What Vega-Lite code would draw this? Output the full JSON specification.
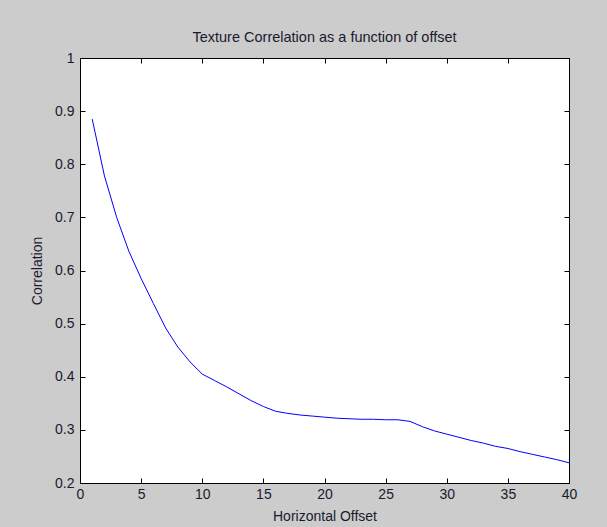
{
  "$schema": "https://vega.github.io/schema/vega-lite/v6.json",
  "autosize": {"type": "none"},
  "width": 489,
  "height": 425,
  "padding": {"left": 80, "top": 58, "right": 38, "bottom": 44},
  "background": "#cccccc",
  "config": {
    "font": "Liberation Sans",
    "view": {"fill": "white", "stroke": "black", "strokeWidth": 1},
    "axis": {
      "domainColor": "black",
      "tickColor": "black",
      "tickSize": -5,
      "grid": false,
      "labelFont": "Liberation Sans",
      "labelFontSize": 14,
      "labelColor": "#1a1a2e",
      "titleFont": "Liberation Sans",
      "titleFontSize": 14,
      "titleFontWeight": "normal",
      "titleColor": "#1a1a2e"
    }
  },
  "title": {
    "text": "Texture Correlation as a function of offset",
    "font": "Liberation Sans",
    "fontSize": 14.5,
    "fontWeight": "normal",
    "color": "#1a1a2e",
    "anchor": "middle",
    "offset": 6
  },
  "data": {
    "values": [
      {"offset": 1, "corr": 0.885},
      {"offset": 2, "corr": 0.778},
      {"offset": 3, "corr": 0.700},
      {"offset": 4, "corr": 0.636},
      {"offset": 5, "corr": 0.585},
      {"offset": 6, "corr": 0.538},
      {"offset": 7, "corr": 0.492},
      {"offset": 8, "corr": 0.456},
      {"offset": 9, "corr": 0.428},
      {"offset": 10, "corr": 0.405},
      {"offset": 11, "corr": 0.393},
      {"offset": 12, "corr": 0.381},
      {"offset": 13, "corr": 0.368},
      {"offset": 14, "corr": 0.355},
      {"offset": 15, "corr": 0.344},
      {"offset": 16, "corr": 0.335},
      {"offset": 17, "corr": 0.331},
      {"offset": 18, "corr": 0.328},
      {"offset": 19, "corr": 0.326},
      {"offset": 20, "corr": 0.324},
      {"offset": 21, "corr": 0.322},
      {"offset": 22, "corr": 0.321},
      {"offset": 23, "corr": 0.320},
      {"offset": 24, "corr": 0.320},
      {"offset": 25, "corr": 0.319},
      {"offset": 26, "corr": 0.319},
      {"offset": 27, "corr": 0.316},
      {"offset": 28, "corr": 0.306},
      {"offset": 29, "corr": 0.298},
      {"offset": 30, "corr": 0.292},
      {"offset": 31, "corr": 0.286},
      {"offset": 32, "corr": 0.280},
      {"offset": 33, "corr": 0.275},
      {"offset": 34, "corr": 0.269},
      {"offset": 35, "corr": 0.265},
      {"offset": 36, "corr": 0.259},
      {"offset": 37, "corr": 0.254},
      {"offset": 38, "corr": 0.249},
      {"offset": 39, "corr": 0.244},
      {"offset": 40, "corr": 0.238}
    ]
  },
  "layer": [
    {
      "mark": {"type": "line", "color": "#0000ff", "strokeWidth": 1},
      "encoding": {
        "x": {
          "field": "offset", "type": "quantitative",
          "scale": {"domain": [0, 40], "nice": false, "zero": false},
          "axis": {"values": [0, 5, 10, 15, 20, 25, 30, 35, 40], "title": "Horizontal Offset", "labelPadding": 9, "titlePadding": 8, "labelFlush": false}
        },
        "y": {
          "field": "corr", "type": "quantitative",
          "scale": {"domain": [0.2, 1], "nice": false, "zero": false},
          "axis": {"values": [0.2, 0.3, 0.4, 0.5, 0.6, 0.7, 0.8, 0.9, 1], "format": "~g", "title": "Correlation", "labelPadding": 11, "titlePadding": 10, "labelFlush": false}
        }
      }
    },
    {
      "mark": {"type": "line", "opacity": 0},
      "encoding": {
        "x": {
          "field": "offset", "type": "quantitative",
          "axis": {"orient": "top", "values": [0, 5, 10, 15, 20, 25, 30, 35, 40], "labels": false, "title": null}
        },
        "y": {
          "field": "corr", "type": "quantitative",
          "axis": {"orient": "right", "values": [0.2, 0.3, 0.4, 0.5, 0.6, 0.7, 0.8, 0.9, 1], "labels": false, "title": null}
        }
      }
    }
  ],
  "resolve": {"axis": {"x": "independent", "y": "independent"}}
}
